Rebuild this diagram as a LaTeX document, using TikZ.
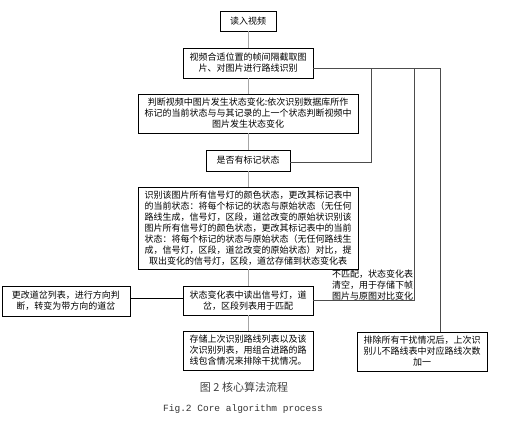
\documentclass[tikz,border=0pt]{standalone}
\usepackage{fontspec}
\setmainfont{Liberation Serif}
\newfontfamily\cjk{Noto Sans CJK SC}
\newfontfamily\capmono{Liberation Mono}
\begin{document}
\begin{tikzpicture}[x=1pt,y=-1pt,
  box/.style={draw=black,line width=0.9pt,inner sep=0pt,align=center,
    font=\cjk\fontsize{9}{11}\selectfont},
  conn/.style={draw=black!35,line width=0.8pt},
  side/.style={draw=black!70,line width=0.8pt},
  lbl/.style={inner sep=0pt,align=right,font=\cjk\fontsize{9}{11}\selectfont}]
\useasboundingbox (0,0) rectangle (509,436);
\node[box,minimum width=56pt,minimum height=20pt] (b1) at (248,21) {读入视频};
\node[box,minimum width=130pt,minimum height=30pt] (b2) at (248,63)
  {视频合适位置的帧间隔截取图\\片、对图片进行路线识别};
\node[box,minimum width=220pt,minimum height=39pt] (b3) at (248,113.5)
  {判断视频中图片发生状态变化:依次识别数据库所作\\标记的当前状态与与其记录的上一个状态判断视频中\\图片发生状态变化};
\node[box,minimum width=84pt,minimum height=21pt] (b4) at (248,160.5) {是否有标记状态};
\node[box,minimum width=220pt,minimum height=82pt] (b5) at (248,228)
  {识别该图片所有信号灯的颜色状态，更改其标记表中\\的当前状态：将每个标记的状态与原始状态（无任何\\路线生成，信号灯，区段，道岔改变的原始状识别该\\图片所有信号灯的颜色状态，更改其标记表中的当前\\状态：将每个标记的状态与原始状态（无任何路线生\\成，信号灯，区段，道岔改变的原始状态）对比，提\\取出变化的信号灯，区段，道岔存储到状态变化表};
\node[box,minimum width=130pt,minimum height=29pt] (b6) at (248,300.5)
  {状态变化表中读出信号灯，道\\岔，区段列表用于匹配};
\node[box,minimum width=128pt,minimum height=30pt] (b7) at (66,301)
  {更改道岔列表，进行方向判\\断，转变为带方向的道岔};
\node[box,minimum width=130pt,minimum height=39pt] (b8) at (248,350.5)
  {存储上次识别路线列表以及该\\次识别列表，用组合进路的路\\线包含情况来排除干扰情况。};
\node[box,minimum width=130pt,minimum height=39pt] (b9) at (422,351.5)
  {排除所有干扰情况后，上次识\\别儿不路线表中对应路线次数\\加一};
\node[lbl] (nm) at (372.5,285.5) {不匹配，状态变化表\\清空，用于存储下帧\\图片与原图对比变化};
\node[inner sep=0pt,font=\cjk\fontsize{11}{13}\selectfont,text=black!75] (cap1) at (244,387) {图 2 核心算法流程};
\node[inner sep=0pt,font=\capmono\fontsize{9.5}{11}\selectfont,text=black!80] (cap2) at (243,409) {Fig.2 Core algorithm process};
% main connectors
\draw[conn] (b1) -- (b2);
\draw[conn] (b2) -- (b3);
\draw[conn] (b3) -- (b4);
\draw[conn] (b4) -- (b5);
\draw[conn] (b5) -- (b6);
\draw[conn] (b6) -- (b8);
\draw[line width=0.8pt] (b7.east |- 0,298) -- (b6.west |- 0,298);
% right side connectors
\coordinate (t1) at (371,68);
\coordinate (t2) at (414,68);
\coordinate (t3) at (440,68);
\draw[side] ([yshift=-5pt]b2.east) -- (t3);
\draw[side] ([yshift=-1.5pt]b4.east) -| (t1);
\draw[side] (b6.east) -| (t2);
\draw[side] (b9.north -| t3) -- (t3);
\end{tikzpicture}
\end{document}
